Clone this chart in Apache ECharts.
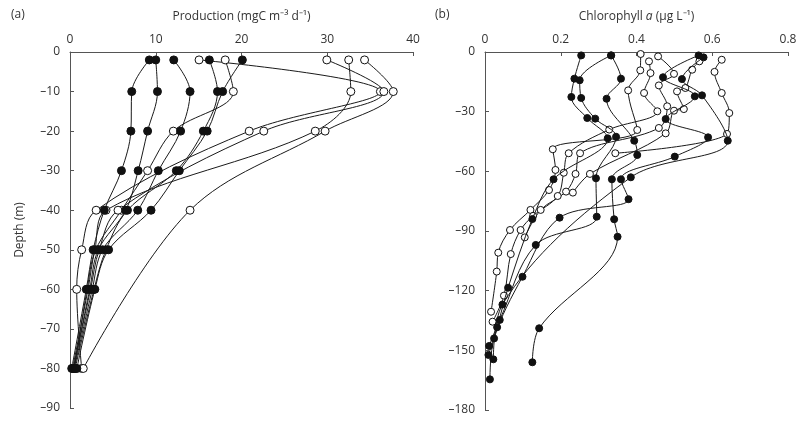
<!DOCTYPE html>
<html><head><meta charset="utf-8">
<script src="https://cdn.jsdelivr.net/npm/echarts@6/dist/echarts.min.js"></script>
<style>html,body{margin:0;padding:0;background:#fff}#c{width:800px;height:423px}</style>
</head><body><div id="c"></div>
<script>
// ---------- Panel (a): Production ----------
const depthsA = [-2, -10, -20, -30, -40, -50, -60, -80];
const prodF1 = [9.25, 7.2, 7.1, 6.0, 4.0, 2.7, 1.9, 0.2];
const prodF2 = [10.0, 10.2, 9.05, 7.95, 6.5, 3.3, 2.3, 0.4];
const prodF3 = [12.1, 14.0, 12.9, 10.3, 7.9, 3.8, 2.6, 0.5];
const prodF4 = [16.25, 17.2, 15.55, 12.4, 6.7, 4.2, 2.8, 0.6];
const prodF5 = [20.1, 17.8, 16.0, 12.75, 9.45, 4.5, 2.9, 0.8];
const prodO1 = [15.05, 36.2, 20.9, null, 3.05, 1.36, 0.78, 1.36];
const prodO2 = [18.1, 19.05, 12.05, 9.05, 6.0, 3.0, 2.0, 0.5];
const prodO3 = [29.95, 36.6, 22.6, null, 5.6, 3.4, 2.4, 0.4];
const prodO4 = [32.5, 32.75, 28.6, null, 4.2, 2.9, 2.1, 0.3];
const prodO5 = [34.35, 37.7, 29.75, null, 14.0, null, null, 1.55];

// ---------- Panel (b): Chlorophyll a  [value, depth] ----------
const chlF1 = [[0.254,-1.7],[0.236,-13.4],[0.228,-22.6],[0.27,-33.2],[0.324,-43.4],[0.181,-64],[0.125,-84],[0.061,-118.5],[0.032,-138.4],[0.009,-152.3]];
const chlF2 = [[0.333,-1.7],[0.25,-14.2],[0.254,-23.1],[0.291,-33.5],[0.346,-42.6],[0.293,-63.5],[0.295,-82.8],[0.134,-97],[0.039,-134.7],[0.011,-147.8]];
const chlF3 = [[0.333,-1.7],[0.359,-13.4],[0.321,-23.5],[0.394,-44.6],[0.402,-51.8],[0.335,-64],[0.341,-84.1],[0.35,-92.9],[0.143,-138.9],[0.125,-156]];
const chlF4 = [[0.564,-1.7],[0.47,-12.7],[0.554,-22.3],[0.477,-33.7],[0.589,-42.9],[0.501,-52.6],[0.359,-64],[0.379,-74],[0.197,-83.3],[0.099,-113],[0.024,-144],[0.013,-164.6]];
const chlF5 = [[0.577,-2.7],[0.52,-13.6],[0.573,-21.8],[0.641,-44.6],[0.385,-63],[0.046,-127],[0.022,-154.5]];
const chlO1 = [[0.411,-1],[0.41,-9.2],[0.378,-19.3],[0.402,-39.2],[0.179,-48.9],[0.186,-59.3],[0.169,-69.4],[0.12,-79.4],[0.066,-89.5],[0.035,-100.9],[0.031,-110.4],[0.016,-130.6]];
const chlO2 = [[0.433,-4.7],[0.437,-10.6],[0.42,-20.6],[0.455,-29.8],[0.328,-39],[0.221,-50.9],[0.208,-60.7],[0.192,-72.4],[0.127,-82.4],[0.094,-89.5],[0.068,-101.6],[0.05,-122.5],[0.02,-135.6]];
const chlO3 = [[0.457,-2.2],[0.499,-11],[0.459,-16.8],[0.481,-27.3],[0.459,-38.2],[0.251,-50.9],[0.239,-61.3],[0.214,-70.2],[0.147,-79.4],[0.105,-93.2]];
const chlO4 = [[0.566,-4.7],[0.547,-8.9],[0.529,-18.1],[0.507,-19.8],[0.525,-28.7],[0.499,-29.5],[0.477,-40.9],[0.277,-61.3],[0.232,-70.7]];
const chlO5 = [[0.625,-3.9],[0.606,-10],[0.625,-20.6],[0.645,-30.7],[0.639,-41.2],[0.344,-50.9]];

const ticksA_x = [0, 10, 20, 30, 40];
const ticksB_x = [0, 0.2, 0.4, 0.6, 0.8];

function pairs(xs, ys) {
  const out = [];
  xs.forEach((v, i) => { if (v !== null) out.push([v, ys[i]]); });
  return out;
}
const FONT = 'Open Sans';
const FS = 12;
const TXT = '#333';
const negFmt = v => (v < 0 ? '\u2013' + Math.abs(v) : String(v));

function mkSeries(data, filled, idx, size) {
  return {
    type: 'line', xAxisIndex: idx, yAxisIndex: idx, data: data,
    smooth: 0.35, symbol: 'circle', symbolSize: size,
    lineStyle: { color: '#1a1a1a', width: 1 },
    itemStyle: { color: filled ? '#111' : '#fff', borderColor: '#111', borderWidth: 1 },
    z: filled ? 3 : 2, animation: false
  };
}

const series = [];
[prodO1, prodO2, prodO3, prodO4, prodO5].forEach(a => series.push(mkSeries(pairs(a, depthsA), false, 0, 8)));
[prodF1, prodF2, prodF3, prodF4, prodF5].forEach(a => series.push(mkSeries(pairs(a, depthsA), true, 0, 8)));
[chlO1, chlO2, chlO3, chlO4, chlO5].forEach(a => series.push(mkSeries(a, false, 1, 7)));
[chlF1, chlF2, chlF3, chlF4, chlF5].forEach(a => series.push(mkSeries(a, true, 1, 7)));

function xAx(idx, min, max, interval, name, rich) {
  return {
    gridIndex: idx, type: 'value', position: 'top', min: min, max: max, interval: interval,
    name: name, nameLocation: 'middle', nameGap: 29,
    nameTextStyle: { fontFamily: FONT, fontSize: FS, color: TXT, rich: rich },
    axisLine: { show: true, onZero: false, lineStyle: { color: '#555', width: 1 } },
    axisTick: { show: true, inside: true, length: 4, lineStyle: { color: '#555' } },
    axisLabel: { fontFamily: FONT, fontSize: FS, color: TXT, margin: 6 },
    splitLine: { show: false }
  };
}
function yAx(idx, min, max, interval, name) {
  return {
    gridIndex: idx, type: 'value', min: min, max: max, interval: interval,
    name: name, nameLocation: 'middle', nameGap: 44, nameRotate: 90,
    nameTextStyle: { fontFamily: FONT, fontSize: FS, color: TXT },
    axisLine: { show: true, onZero: false, lineStyle: { color: '#555', width: 1 } },
    axisTick: { show: true, inside: true, length: 4, lineStyle: { color: '#555' } },
    axisLabel: { fontFamily: FONT, fontSize: FS, color: TXT, margin: 10, formatter: negFmt },
    splitLine: { show: false }
  };
}

const chart = echarts.init(document.getElementById('c'), null, { renderer: 'canvas' });
chart.setOption({
  animation: false,
  backgroundColor: '#fff',
  title: [
    { text: '(a)', left: 6, top: 4, textStyle: { fontFamily: FONT, fontSize: FS, fontWeight: 'normal', color: TXT } },
    { text: '(b)', left: 430, top: 4, textStyle: { fontFamily: FONT, fontSize: FS, fontWeight: 'normal', color: TXT } }
  ],
  grid: [
    { left: 70, top: 52, width: 343, height: 356 },
    { left: 485, top: 52, width: 303, height: 358 }
  ],
  xAxis: [
    xAx(0, ticksA_x[0], ticksA_x[ticksA_x.length - 1], ticksA_x[1] - ticksA_x[0], 'Production (mgC m\u207B\u00B3 d\u207B\u00B9)'),
    xAx(1, ticksB_x[0], ticksB_x[ticksB_x.length - 1], 0.2, '{n|Chlorophyll }{i|a}{n| (\u00B5g L\u207B\u00B9)}',
      { n: { fontFamily: FONT, fontSize: FS, color: TXT }, i: { fontFamily: FONT, fontSize: FS, color: TXT, fontStyle: 'italic' } })
  ],
  yAxis: [
    yAx(0, -90, 0, 10, 'Depth (m)'),
    yAx(1, -180, 0, 30, '')
  ],
  series: series
});
</script></body></html>
